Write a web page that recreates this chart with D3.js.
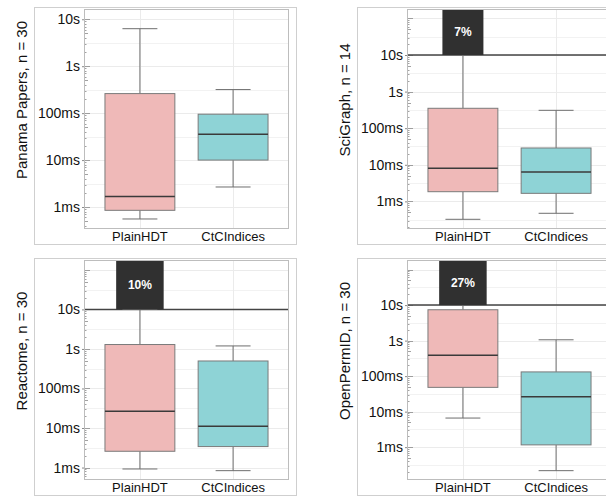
<!DOCTYPE html>
<html>
<head>
<meta charset="utf-8">
<script src="https://cdn.jsdelivr.net/npm/d3@7"></script>
<style>
  body { margin: 0; background: #fff; }
  svg { display: block; font-family: "Liberation Sans", Arial, sans-serif; }
</style>
</head>
<body>
<script>
// data (times in ms)
var datasets = ["Panama Papers", "SciGraph", "Reactome", "OpenPermID"];
var sampleSizes = [30, 14, 30, 30];
var categories = ["PlainHDT", "CtCIndices"];

// box stats: [lower whisker, q1, median, q3, upper whisker]
var plainStats = [
  [0.556, 0.85, 1.68, 261, 6300],
  [0.324, 1.84, 8.0, 350, 10000],
  [0.92, 2.58, 26.7, 1294, 10000],
  [6.6, 48.3, 387, 7400, 10000]
];
var ctcStats = [
  [2.67, 10, 35.7, 95, 318],
  [0.473, 1.66, 6.36, 28.8, 308],
  [0.834, 3.39, 11.1, 496, 1192],
  [0.218, 1.16, 26.3, 131.5, 1055]
];

// share of PlainHDT queries that hit the timeout
var timeoutShare = [null, "7%", "10%", "27%"];
var timeoutMs = 10000;

// y axis limits per panel (ms)
var yLimits = [
  [0.340, 16560],
  [0.176, 180700],
  [0.484, 177800],
  [0.119, 186200]
];

var tickValues = [1, 10, 100, 1000, 10000];
var tickLabels = ["1ms", "10ms", "100ms", "1s", "10s"];

var fills = ["#efb9b8", "#8ed3d6"];

// layout of the 2x2 grid
var colLeft = [84, 407];
var rowTop = [9, 260];
var plotW = 205, plotH = 220;
var barWidths = [0, 41, 47.5, 47.5];

var svg = d3.select("body").append("svg")
    .attr("width", 606)
    .attr("height", 496);

datasets.forEach(function(name, i) {
  var left = colLeft[i % 2];
  var top = rowTop[Math.floor(i / 2)];

  var x = d3.scalePoint().domain(categories).range([left, left + plotW]).padding(0.6);
  var y = d3.scaleLog().domain(yLimits[i]).range([top + plotH, top]);
  var boxW = x.step() * 0.75;

  var g = svg.append("g");

  // outer frame (ticks, labels, panel)
  g.append("rect")
    .attr("x", left - 49.5)
    .attr("y", top - 1.5)
    .attr("width", plotW + 57)
    .attr("height", plotH + 17)
    .attr("fill", "none")
    .attr("stroke", "#cfcfcf")
    .attr("stroke-width", 1);

  // clip so nothing spills from the plot
  var clipId = "clip" + i;
  svg.append("clipPath").attr("id", clipId)
    .append("rect")
    .attr("x", left).attr("y", top).attr("width", plotW).attr("height", plotH);

  var plot = g.append("g").attr("clip-path", "url(#" + clipId + ")");

  // minor grid at half decades, major grid at decades
  var lo = Math.floor(Math.log10(yLimits[i][0])), hi = Math.ceil(Math.log10(yLimits[i][1]));
  var decades = d3.range(lo, hi + 1);
  plot.selectAll(".minor").data(decades).enter().append("line")
    .attr("x1", left).attr("x2", left + plotW)
    .attr("y1", function(d) { return Math.round(y(Math.pow(10, d + 0.5))) + 0.5; })
    .attr("y2", function(d) { return Math.round(y(Math.pow(10, d + 0.5))) + 0.5; })
    .attr("stroke", "#f2f2f2").attr("stroke-width", 1);
  plot.selectAll(".major").data(decades).enter().append("line")
    .attr("x1", left).attr("x2", left + plotW)
    .attr("y1", function(d) { return Math.round(y(Math.pow(10, d))) + 0.5; })
    .attr("y2", function(d) { return Math.round(y(Math.pow(10, d))) + 0.5; })
    .attr("stroke", "#ebebeb").attr("stroke-width", 1);
  plot.selectAll(".vgrid").data(categories).enter().append("line")
    .attr("x1", function(d) { return Math.round(x(d)) + 0.5; })
    .attr("x2", function(d) { return Math.round(x(d)) + 0.5; })
    .attr("y1", top).attr("y2", top + plotH)
    .attr("stroke", "#ebebeb").attr("stroke-width", 1);

  // log ticks inside the axis
  var minorVals = [];
  decades.forEach(function(d) {
    for (var k = 1; k <= 9; k++) minorVals.push({v: k * Math.pow(10, d), k: k});
  });
  plot.selectAll(".logtick").data(minorVals).enter().append("line")
    .attr("x1", left)
    .attr("x2", function(d) { return left + (d.k == 1 ? 6 : d.k == 5 ? 4 : 2.5); })
    .attr("y1", function(d) { return Math.round(y(d.v)) + 0.5; })
    .attr("y2", function(d) { return Math.round(y(d.v)) + 0.5; })
    .attr("stroke", "#8a8a8a").attr("stroke-width", 0.8);

  // timeout line
  if (timeoutShare[i]) {
    var ty = y(timeoutMs);
    plot.append("line")
      .attr("x1", left).attr("x2", left + plotW)
      .attr("y1", ty).attr("y2", ty)
      .attr("stroke", "#444").attr("stroke-width", 1.5);
  }

  // boxes
  var stats = [plainStats[i], ctcStats[i]];
  categories.forEach(function(c, j) {
    var s = stats[j];
    var cx = x(c);
    // whiskers
    plot.append("line")
      .attr("x1", cx).attr("x2", cx)
      .attr("y1", y(s[0])).attr("y2", y(s[1]))
      .attr("stroke", "#6e6e6e").attr("stroke-width", 1);
    plot.append("line")
      .attr("x1", cx).attr("x2", cx)
      .attr("y1", y(s[3])).attr("y2", y(s[4]))
      .attr("stroke", "#6e6e6e").attr("stroke-width", 1);
    [s[0], s[4]].forEach(function(v) {
      plot.append("line")
        .attr("x1", cx - boxW / 4).attr("x2", cx + boxW / 4)
        .attr("y1", y(v)).attr("y2", y(v))
        .attr("stroke", "#6e6e6e").attr("stroke-width", 1);
    });
    plot.append("rect")
      .attr("x", cx - boxW / 2)
      .attr("y", y(s[3]))
      .attr("width", boxW)
      .attr("height", y(s[1]) - y(s[3]))
      .attr("fill", fills[j])
      .attr("stroke", "#7a7a7a")
      .attr("stroke-width", 1);
    plot.append("line")
      .attr("x1", cx - boxW / 2).attr("x2", cx + boxW / 2)
      .attr("y1", y(s[2])).attr("y2", y(s[2]))
      .attr("stroke", "#3a3a3a").attr("stroke-width", 1.5);
  });

  // timeout bar with its share
  if (timeoutShare[i]) {
    var bx = x(categories[0]);
    plot.append("rect")
      .attr("x", bx - barWidths[i] / 2)
      .attr("y", top)
      .attr("width", barWidths[i])
      .attr("height", y(timeoutMs) - top)
      .attr("fill", "#303030");
    g.append("text")
      .text(timeoutShare[i])
      .attr("x", bx)
      .attr("y", (top + y(timeoutMs)) / 2)
      .attr("dy", "0.35em")
      .attr("text-anchor", "middle")
      .attr("font-size", 12)
      .attr("font-weight", "bold")
      .attr("fill", "#fff");
  }

  // panel border
  g.append("rect")
    .attr("x", left + 0.5).attr("y", top + 0.5)
    .attr("width", plotW - 1).attr("height", plotH - 1)
    .attr("fill", "none")
    .attr("stroke", "#bdbdbd")
    .attr("stroke-width", 1);

  // y axis
  var yAxis = d3.axisLeft(y)
    .tickValues(tickValues)
    .tickFormat(function(d, k) { return tickLabels[k]; })
    .tickSize(2)
    .tickPadding(2);
  var ax = g.append("g")
    .attr("transform", "translate(" + left + ",0)")
    .call(yAxis);
  ax.select(".domain").remove();
  ax.selectAll(".tick line").attr("stroke", "#8a8a8a");
  ax.selectAll(".tick text")
    .attr("font-size", 14)
    .attr("font-family", "'Liberation Sans', Arial, sans-serif")
    .attr("fill", "#111");

  // x labels
  g.selectAll(".xlab").data(categories).enter().append("text")
    .text(function(d) { return d; })
    .attr("x", function(d) { return x(d); })
    .attr("y", top + plotH + 12)
    .attr("text-anchor", "middle")
    .attr("font-size", 13)
    .attr("fill", "#111");

  // y title
  g.append("text")
    .text(name + ", n = " + sampleSizes[i])
    .attr("transform", "translate(" + (left - 62) + "," + (top + plotH / 2 - 19) + ") rotate(-90)")
    .attr("dy", "0.35em")
    .attr("text-anchor", "middle")
    .attr("font-size", 15)
    .attr("fill", "#111");
});
</script>
</body>
</html>
